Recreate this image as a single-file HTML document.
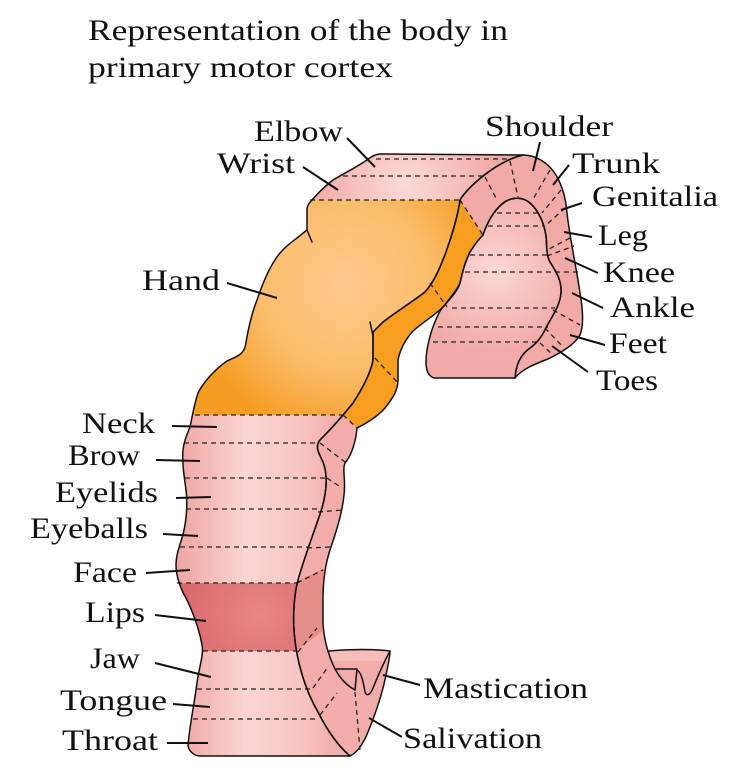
<!DOCTYPE html>
<html><head><meta charset="utf-8"><style>
html,body{margin:0;padding:0;background:#fff;}
svg{display:block;}
text{font-family:"Liberation Serif",serif;font-size:30px;fill:#111;}
</style></head><body>
<svg width="750" height="774" viewBox="0 0 750 774" xmlns="http://www.w3.org/2000/svg">
<defs>
<path id="front" d="M380,154 L523,155 C510,158 497,165 483,176 C472,185 464,193 460,200 C458,215 452,235 446,252 C440,268 434,282 425,292 C412,302 396,312 383,322 L373,332 L373,360 C371,372 364,386 353,403 C345,413 332,428 320,440 C315,446 318,452 323,462 C328,475 327,490 322,508 C315,530 305,555 298,580 C294,595 293,615 294,630 C296,660 305,690 318,712 C326,728 337,745 350,756 L200,756 C194,756 189,751 188,746 C189,730 194,705 197,683 C199,667 204,655 202,645 C199,628 192,610 186,598 C180,588 176,575 176,565 C176,555 179,548 182,538 C186,525 188,505 186,490 C184,475 182,463 183,450 C184,440 188,432 190,427 C192,418 194,405 198,393 C203,383 214,370 227,361 C238,356 245,354 246,342 C249,325 253,310 257,300 C262,285 270,265 280,253 C287,245 293,241 297,238 L307,230 L307,208 C308,204 310,202 312,200 C318,193 324,187 333,180 C343,174 355,168 367,160 C372,156 376,154 380,154 Z"/>
<path id="strip" d="M460,200 C458,215 452,235 446,252 C440,268 434,282 425,292 C412,302 396,312 383,322 L373,332 L373,360 C371,372 364,386 353,403 C345,413 332,428 320,440 C315,446 318,452 323,462 C328,475 327,490 322,508 C315,530 305,555 298,580 C294,595 293,615 294,630 C296,660 305,690 318,712 C326,728 337,745 350,756 C358,752 364,742 368,732 C375,715 382,695 386,675 C388,665 390,657 390,651 C375,649 350,649 328,651 C326,645 323,632 323,620 L323,600 C323,580 325,565 330,550 C335,535 342,515 344,495 C346,480 342,470 345,463 C352,455 356,440 357,428 C367,423 378,416 385,408 C393,398 398,390 398,380 L398,360 C400,350 405,340 413,331 C422,323 435,315 443,307 C452,297 458,290 460,283 C463,270 465,262 470,252 C475,244 479,239 483,235"/>
<path id="band" d="M460,200 C464,193 472,185 483,176 C497,165 510,158 523,155 C535,155 548,162 556,175 C563,187 566,200 567,213 C570,240 576,265 580,293 C583,310 584,325 580,335 C574,345 562,352 548,359 C535,364 522,369 515,378 C516,365 520,355 530,348 C540,341 544,332 548,324 C553,315 560,305 561,293 C562,280 555,270 550,262 C546,255 547,245 546,236 C544,222 538,210 530,203 C522,196 510,197 502,204 C494,211 488,220 483,235"/>
<path id="leg" d="M483,235 C488,220 494,211 502,204 C510,197 522,196 530,203 C538,210 544,222 546,236 C547,245 546,255 550,262 C555,270 562,280 561,293 C560,305 553,315 548,324 C544,332 540,341 530,348 C520,355 516,365 515,378 L434,378 C428,376 426,370 426,362 C426,350 430,330 440,311 C448,300 456,292 460,283 C463,270 465,262 470,252 C475,244 479,239 483,235 Z"/>
<clipPath id="cfront"><use href="#front"/></clipPath>
<clipPath id="cstrip"><use href="#strip"/></clipPath>
<linearGradient id="gpink" gradientUnits="userSpaceOnUse" x1="176" y1="0" x2="330" y2="0">
<stop offset="0" stop-color="#efa4a1"/><stop offset="0.45" stop-color="#fad5d2"/><stop offset="0.8" stop-color="#f7c6c3"/><stop offset="1" stop-color="#f2b0ad"/>
</linearGradient>
<radialGradient id="ghand" gradientUnits="userSpaceOnUse" cx="345" cy="285" r="155">
<stop offset="0" stop-color="#fdca8c"/><stop offset="0.55" stop-color="#fbbd6c"/><stop offset="1" stop-color="#f59c22"/>
</radialGradient>
<radialGradient id="gtop" gradientUnits="userSpaceOnUse" cx="405" cy="185" r="95">
<stop offset="0" stop-color="#fbdad7"/><stop offset="1" stop-color="#f1a9a6"/>
</radialGradient>
<radialGradient id="glips" gradientUnits="userSpaceOnUse" cx="260" cy="615" r="90">
<stop offset="0" stop-color="#e68886"/><stop offset="1" stop-color="#d9646a"/>
</radialGradient>
<radialGradient id="gleg" gradientUnits="userSpaceOnUse" cx="495" cy="270" r="85">
<stop offset="0" stop-color="#fbd8d5"/><stop offset="1" stop-color="#f1aaa7"/>
</radialGradient>
</defs>

<use href="#front" fill="url(#gpink)"/>
<g clip-path="url(#cfront)">
<rect x="170" y="150" width="360" height="50" fill="url(#gtop)"/>
<rect x="170" y="200" width="300" height="215" fill="url(#ghand)"/>
<rect x="170" y="583" width="140" height="68" fill="url(#glips)"/>
</g>
<use href="#strip" fill="#f2adaa"/>
<g clip-path="url(#cstrip)">
<polygon points="280,150 600,150 600,654 280,356" fill="#f79d1f"/>
<polygon points="288,585 330,566 330,626 288,656" fill="#e58e8b"/>
<rect x="330" y="651" width="60" height="10" fill="#f7c9c6" opacity="0.6"/>
</g>
<use href="#band" fill="#f2aaa7"/>
<use href="#leg" fill="url(#gleg)"/>

<g stroke="#222" stroke-width="1.3" stroke-dasharray="5,4" fill="none">
<line x1="376" y1="159" x2="507" y2="159"/>
<line x1="343" y1="176" x2="483" y2="176"/>
<line x1="310" y1="200" x2="460" y2="200"/>
<line x1="195" y1="415" x2="343" y2="415"/>
<line x1="184" y1="443" x2="318" y2="443"/>
<line x1="185" y1="478" x2="325" y2="478"/>
<line x1="186" y1="509" x2="320" y2="509"/>
<line x1="180" y1="547" x2="308" y2="547"/>
<line x1="177" y1="583" x2="297" y2="583"/>
<line x1="203" y1="651" x2="297" y2="651"/>
<line x1="197" y1="689" x2="310" y2="689"/>
<line x1="193" y1="719" x2="318" y2="719"/>
<line x1="460" y1="200" x2="483" y2="235"/>
<line x1="430" y1="283" x2="447" y2="307"/>
<line x1="375" y1="358" x2="398" y2="383"/>
<line x1="343" y1="415" x2="357" y2="428"/>
<line x1="320" y1="443" x2="345" y2="462"/>
<line x1="327" y1="478" x2="342" y2="488"/>
<line x1="318" y1="512" x2="342" y2="510"/>
<line x1="307" y1="548" x2="330" y2="547"/>
<line x1="297" y1="583" x2="323" y2="570"/>
<line x1="298" y1="652" x2="317" y2="628"/>
<line x1="313" y1="688" x2="328" y2="667"/>
<line x1="320" y1="715" x2="337" y2="693"/>
<line x1="355" y1="692" x2="360" y2="750"/>
<line x1="485" y1="177" x2="497" y2="200"/>
<line x1="510" y1="161" x2="518" y2="197"/>
<line x1="550" y1="170" x2="532" y2="201"/>
<line x1="561" y1="190" x2="542" y2="213"/>
<line x1="565" y1="208" x2="545" y2="226"/>
<line x1="570" y1="238" x2="547" y2="250"/>
<line x1="547" y1="256" x2="574" y2="246"/>
<line x1="553" y1="310" x2="580" y2="325"/>
<line x1="545" y1="328" x2="563" y2="347"/>
<line x1="540" y1="343" x2="553" y2="355"/>
<line x1="497" y1="213" x2="538" y2="213"/>
<line x1="488" y1="226" x2="543" y2="226"/>
<line x1="470" y1="255" x2="547" y2="255"/>
<line x1="465" y1="272" x2="578" y2="272"/>
<line x1="452" y1="308" x2="555" y2="308"/>
<line x1="438" y1="327" x2="548" y2="327"/>
<line x1="433" y1="342" x2="538" y2="342"/>
</g>

<g stroke="#111" stroke-width="1.5" fill="none" stroke-linejoin="round" stroke-linecap="round">
<use href="#front"/>
<use href="#strip"/>
<use href="#band"/>
<use href="#leg"/>
<path d="M307,230 L312,242"/>
<path d="M370,322 L373,336"/>
<path d="M328,651 C332,665 340,682 355,690"/>
<path d="M335,669 L357,669 L355,690"/>
<path d="M357,670 C361,672 363,680 365,692 C366,696 370,696 373,688 C377,678 383,664 390,651"/>
</g>

<g stroke="#111" stroke-width="2" fill="none">
<line x1="347" y1="138" x2="375" y2="167"/>
<line x1="303" y1="167" x2="338" y2="190"/>
<line x1="227" y1="283" x2="277" y2="298"/>
<line x1="540" y1="142" x2="533" y2="171"/>
<line x1="569" y1="165" x2="553" y2="185"/>
<line x1="582" y1="203" x2="561" y2="210"/>
<line x1="592" y1="237" x2="564" y2="232"/>
<line x1="598" y1="273" x2="565" y2="258"/>
<line x1="603" y1="308" x2="572" y2="293"/>
<line x1="605" y1="345" x2="570" y2="335"/>
<line x1="588" y1="372" x2="552" y2="346"/>
<line x1="172" y1="426" x2="217" y2="427"/>
<line x1="156" y1="460" x2="200" y2="461"/>
<line x1="176" y1="498" x2="211" y2="497"/>
<line x1="163" y1="534" x2="198" y2="536"/>
<line x1="146" y1="573" x2="190" y2="570"/>
<line x1="155" y1="615" x2="206" y2="621"/>
<line x1="155" y1="663" x2="211" y2="677"/>
<line x1="173" y1="704" x2="210" y2="707"/>
<line x1="167" y1="743" x2="208" y2="743"/>
<line x1="383" y1="675" x2="420" y2="685"/>
<line x1="369" y1="718" x2="402" y2="737"/>
</g>

<text x="88" y="40" textLength="420" lengthAdjust="spacingAndGlyphs">Representation of the body in</text>
<text x="88" y="77" textLength="305" lengthAdjust="spacingAndGlyphs">primary motor cortex</text>
<text x="254" y="141" textLength="89" lengthAdjust="spacingAndGlyphs">Elbow</text>
<text x="217" y="173" textLength="78" lengthAdjust="spacingAndGlyphs">Wrist</text>
<text x="142" y="290" textLength="78" lengthAdjust="spacingAndGlyphs">Hand</text>
<text x="485" y="136" textLength="128" lengthAdjust="spacingAndGlyphs">Shoulder</text>
<text x="572" y="173" textLength="88" lengthAdjust="spacingAndGlyphs">Trunk</text>
<text x="592" y="206" textLength="126" lengthAdjust="spacingAndGlyphs">Genitalia</text>
<text x="598" y="245" textLength="50" lengthAdjust="spacingAndGlyphs">Leg</text>
<text x="603" y="282" textLength="72" lengthAdjust="spacingAndGlyphs">Knee</text>
<text x="610" y="317" textLength="85" lengthAdjust="spacingAndGlyphs">Ankle</text>
<text x="609" y="353" textLength="58" lengthAdjust="spacingAndGlyphs">Feet</text>
<text x="596" y="390" textLength="62" lengthAdjust="spacingAndGlyphs">Toes</text>
<text x="82" y="433" textLength="73" lengthAdjust="spacingAndGlyphs">Neck</text>
<text x="68" y="465" textLength="72" lengthAdjust="spacingAndGlyphs">Brow</text>
<text x="55" y="502" textLength="103" lengthAdjust="spacingAndGlyphs">Eyelids</text>
<text x="30" y="538" textLength="118" lengthAdjust="spacingAndGlyphs">Eyeballs</text>
<text x="73" y="582" textLength="64" lengthAdjust="spacingAndGlyphs">Face</text>
<text x="85" y="622" textLength="60" lengthAdjust="spacingAndGlyphs">Lips</text>
<text x="90" y="668" textLength="50" lengthAdjust="spacingAndGlyphs">Jaw</text>
<text x="60" y="710" textLength="107" lengthAdjust="spacingAndGlyphs">Tongue</text>
<text x="62" y="750" textLength="96" lengthAdjust="spacingAndGlyphs">Throat</text>
<text x="423" y="698" textLength="165" lengthAdjust="spacingAndGlyphs">Mastication</text>
<text x="403" y="748" textLength="139" lengthAdjust="spacingAndGlyphs">Salivation</text>
</svg>
</body></html>
